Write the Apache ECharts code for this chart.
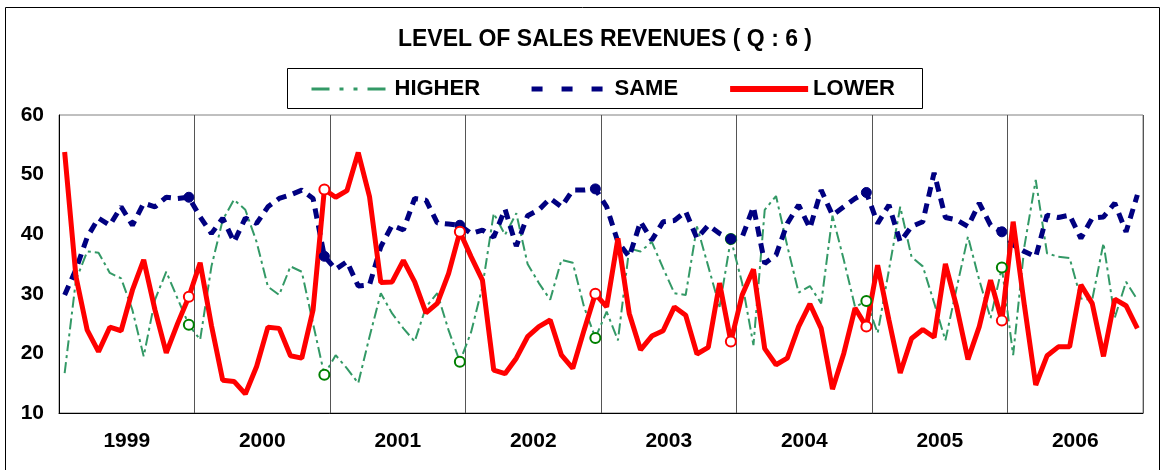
<!DOCTYPE html>
<html>
<head>
<meta charset="utf-8">
<script src="https://cdn.jsdelivr.net/npm/echarts@6/dist/echarts.min.js"></script>
<style>
html,body{margin:0;padding:0;background:#fff;}
#chart{width:1165px;height:470px;}
</style>
</head>
<body>
<div id="chart"></div>
<script>
var years = ['1999','2000','2001','2002','2003','2004','2005','2006'];
var months = ['01','02','03','04','05','06','07','08','09','10','11','12'];
var yTicks = [10, 20, 30, 40, 50, 60];

var higher = [
  16.7, 32.3, 37.1, 36.9, 33.5, 32.6, 27.3, 19.5, 29.0, 33.7, 29.2, 24.8,
  22.3, 34.6, 42.4, 45.8, 44.1, 38.7, 31.2, 29.8, 34.6, 33.7, 25.0, 16.4,
  19.7, 17.5, 15.0, 22.8, 30.1, 26.7, 24.2, 22.0, 27.8, 30.1, 23.9, 18.6,
  23.6, 31.2, 43.5, 39.9, 43.5, 35.0, 31.8, 29.0, 35.7, 35.2, 27.8, 22.6,
  27.0, 22.2, 37.6, 37.1, 38.7, 34.3, 30.1, 29.8, 41.3, 34.6, 27.8, 39.2,
  31.8, 21.4, 44.1, 46.4, 38.0, 30.2, 31.3, 28.4, 43.1, 35.7, 27.8, 28.8,
  23.4, 34.0, 44.6, 36.2, 34.6, 28.5, 22.2, 31.0, 39.6, 32.3, 25.9, 34.4,
  19.7, 38.0, 49.1, 36.8, 36.2, 36.0, 29.2, 29.0, 38.5, 26.0, 32.0, 29.0
];
var same = [
  29.8, 34.1, 39.5, 42.7, 41.5, 44.6, 41.5, 45.2, 44.6, 46.2, 46.0, 46.2,
  42.9, 40.1, 42.7, 38.7, 42.7, 41.8, 44.6, 46.0, 46.6, 47.4, 46.0, 36.3,
  34.1, 35.4, 31.3, 31.5, 37.9, 41.5, 40.7, 46.0, 45.7, 41.9, 41.7, 41.5,
  40.1, 40.7, 39.5, 44.2, 38.0, 43.1, 44.1, 46.0, 44.6, 47.4, 47.4, 47.6,
  44.6, 38.7, 36.2, 42.1, 39.0, 42.1, 42.3, 43.8, 39.3, 41.5, 40.1, 39.2,
  39.5, 44.6, 35.1, 36.5, 41.8, 44.9, 41.0, 47.4, 43.2, 44.6, 46.0, 47.0,
  41.8, 44.9, 38.7, 41.3, 42.1, 50.3, 42.8, 42.4, 41.3, 45.2, 41.5, 40.4,
  38.2, 37.1, 36.2, 43.2, 42.8, 43.2, 39.3, 42.7, 42.9, 45.2, 40.4, 46.6
];
var lower = [
  53.8, 32.9, 23.9, 20.3, 24.4, 23.8, 30.6, 35.7, 27.3, 20.1, 25.0, 29.5,
  35.2, 24.7, 15.5, 15.3, 13.2, 17.8, 24.4, 24.2, 19.6, 19.2, 27.3, 47.5,
  46.2, 47.3, 53.7, 46.3, 31.9, 32.0, 35.6, 32.0, 26.8, 28.4, 33.4, 40.4,
  36.2, 32.3, 17.2, 16.6, 19.2, 22.8, 24.5, 25.6, 19.7, 17.5, 23.9, 30.0,
  27.8, 39.3, 26.7, 20.6, 22.9, 23.8, 27.8, 26.4, 19.9, 21.0, 31.8, 22.0,
  29.8, 34.1, 20.8, 18.1, 19.2, 24.5, 28.3, 24.2, 14.0, 20.0, 27.6, 24.5,
  34.8, 25.6, 16.7, 22.5, 24.0, 22.7, 35.0, 27.8, 19.0, 24.5, 32.3, 25.5,
  42.1, 28.0, 14.7, 19.6, 21.1, 21.1, 31.5, 28.4, 19.5, 29.1, 28.0, 24.2
];

var categories = [];
years.forEach(function (y) { months.forEach(function (m) { categories.push(y + '-' + m); }); });

var FONT = '"Liberation Sans", Arial, sans-serif';

function withMarkers(values, markerStyle) {
  return values.map(function (v, i) {
    if (i % 12 === 11 && i < values.length - 1) {
      return { value: v, symbol: 'circle', symbolSize: 10, itemStyle: markerStyle };
    }
    return v;
  });
}

var chart = echarts.init(document.getElementById('chart'), null, { renderer: 'canvas' });
chart.setOption({
  backgroundColor: '#ffffff',
  animation: false,
  title: {
    text: 'LEVEL OF SALES REVENUES ( Q : 6 )',
    left: 605, top: 28, padding: 0, textAlign: 'center',
    textStyle: { fontFamily: FONT, fontWeight: 'bold', fontSize: 23, color: '#000' }
  },
  legend: {
    left: 310, top: 78, padding: 0,
    itemWidth: 78, itemHeight: 14, itemGap: 49,
    itemStyle: { opacity: 0 },
    textStyle: { fontFamily: FONT, fontWeight: 'bold', fontSize: 22, color: '#000' },
    data: [
      { name: 'HIGHER', lineStyle: { width: 3, type: [18, 10, 4, 10, 4, 10] } },
      { name: 'SAME', lineStyle: { width: 5, type: [11, 19] } },
      { name: 'LOWER', lineStyle: { width: 6, type: 'solid' } }
    ]
  },
  graphic: [
    { type: 'rect', z: -10, silent: true, shape: { x: 5.5, y: 7.5, width: 1154, height: 470 },
      style: { fill: 'none', stroke: '#000', lineWidth: 1 } },
    { type: 'rect', z: -10, silent: true, shape: { x: 287.5, y: 68.5, width: 635, height: 40 },
      style: { fill: '#fff', stroke: '#000', lineWidth: 1 } }
  ],
  grid: { left: 59, top: 115, right: 22, bottom: 57, show: true, borderColor: '#808080', borderWidth: 1, containLabel: false },
  xAxis: [
    { type: 'category', data: categories, boundaryGap: true, show: false },
    { type: 'category', data: years, boundaryGap: true, position: 'bottom',
      axisLine: { show: true, lineStyle: { color: '#000', width: 1 } },
      axisTick: { show: false },
      axisLabel: { fontFamily: FONT, fontWeight: 'bold', fontSize: 21, color: '#000', margin: 18 },
      splitLine: { show: true, lineStyle: { color: '#555', width: 1 } } }
  ],
  yAxis: {
    type: 'value', min: yTicks[0], max: yTicks[yTicks.length - 1], interval: 10,
    axisLine: { show: true, lineStyle: { color: '#000', width: 1 } },
    axisTick: { show: false },
    splitLine: { show: false },
    axisLabel: { fontFamily: FONT, fontWeight: 'bold', fontSize: 21, color: '#000', margin: 15 }
  },
  series: [
    { name: 'HIGHER', type: 'line', xAxisIndex: 0, symbol: 'none', showAllSymbol: true,
      color: '#339966',
      lineStyle: { color: '#339966', width: 2, type: [11, 4, 3, 4] },
      data: withMarkers(higher, { color: '#fff', borderColor: '#008000', borderWidth: 2, opacity: 1 }) },
    { name: 'SAME', type: 'line', xAxisIndex: 0, symbol: 'none', showAllSymbol: true,
      color: '#000080',
      lineStyle: { color: '#000080', width: 5, type: [10, 7] },
      data: withMarkers(same, { color: '#000080', borderColor: '#000080', borderWidth: 1, opacity: 1 }) },
    { name: 'LOWER', type: 'line', xAxisIndex: 0, symbol: 'none', showAllSymbol: true,
      color: '#ff0000',
      lineStyle: { color: '#ff0000', width: 5 },
      data: withMarkers(lower, { color: '#fff', borderColor: '#ff0000', borderWidth: 2, opacity: 1 }) }
  ]
});
</script>
</body>
</html>
